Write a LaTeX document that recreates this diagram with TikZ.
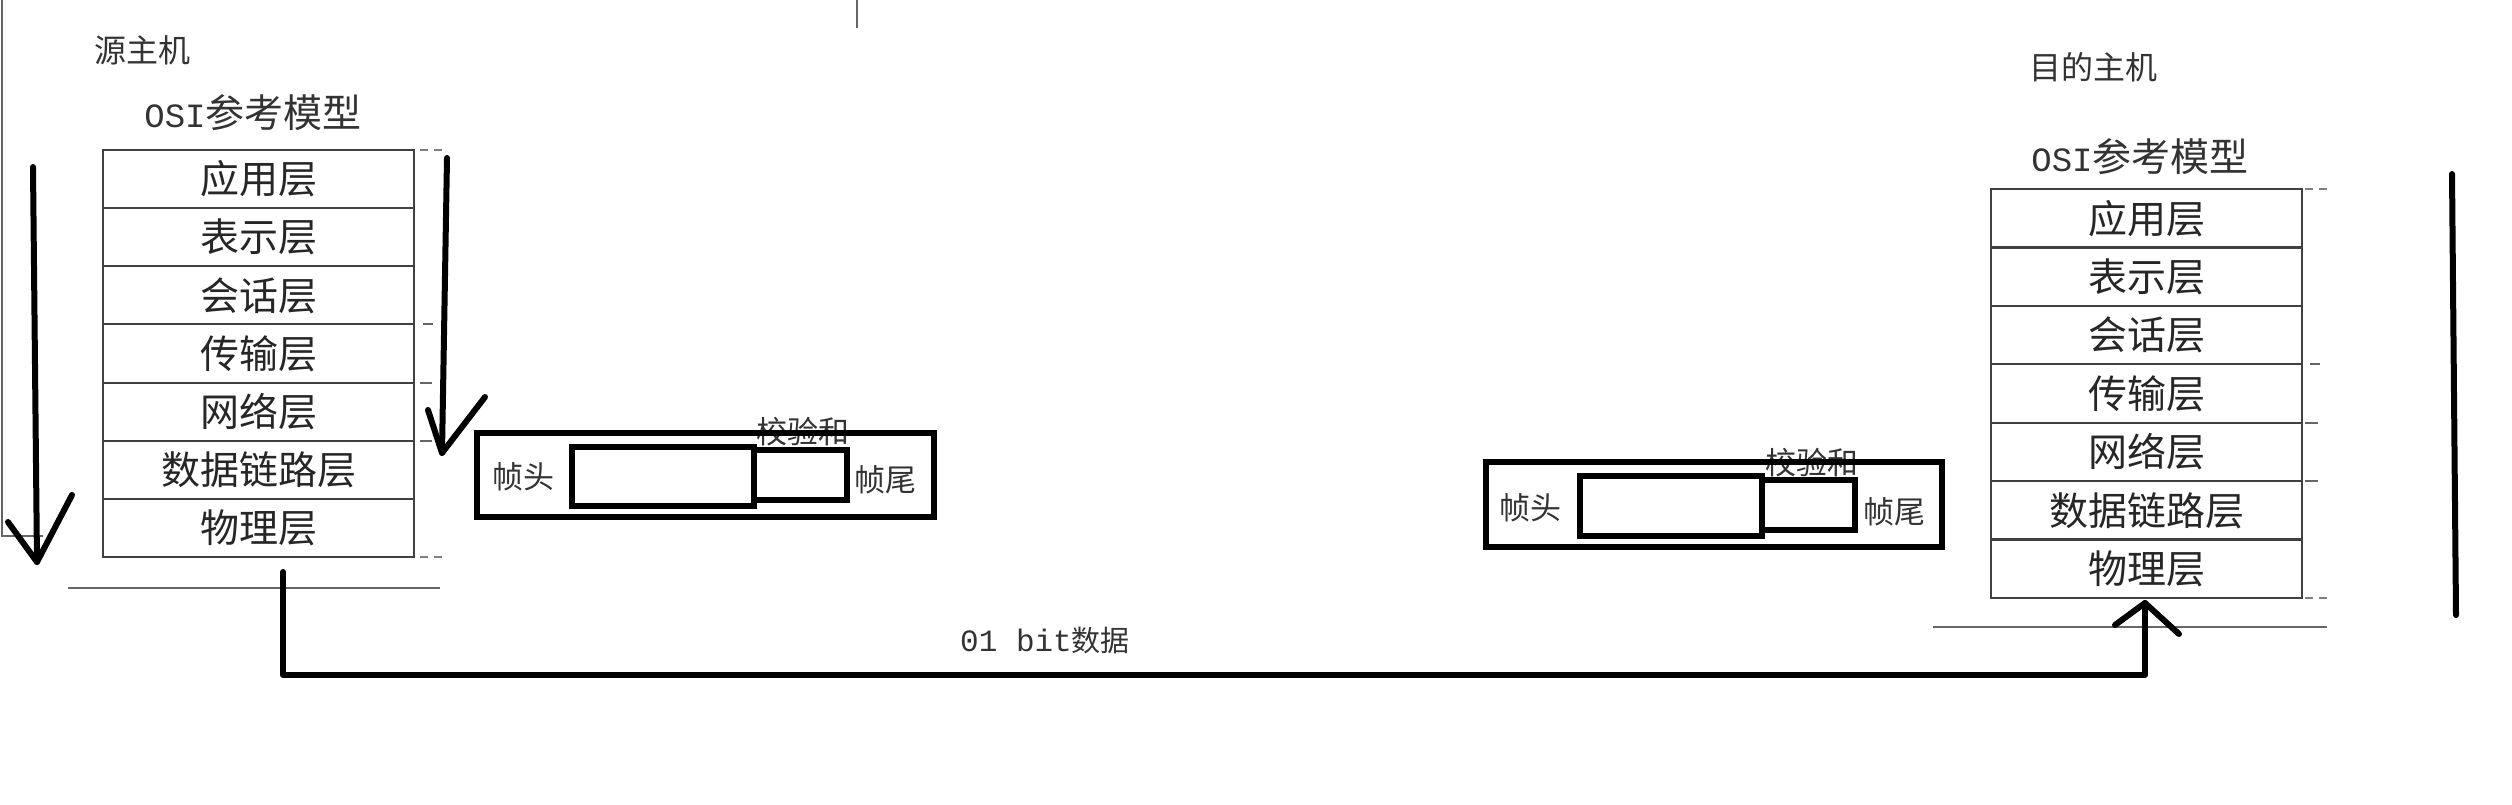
\documentclass[tikz,border=0pt]{standalone}
\usepackage{fontspec}
\newfontfamily\cjk{Noto Sans CJK SC}
\newfontfamily\mono{Liberation Mono}
\begin{document}
\begin{tikzpicture}[x=0.5pt,y=-0.5pt,
  layer/.style={draw=black!75,line width=1pt,minimum width=155.5pt,minimum height=29.1pt,inner sep=0pt,font=\cjk\fontsize{19.5}{19.5}\selectfont,text=black!85},
  lbl/.style={inner sep=0pt,text=black!80,font=\cjk\fontsize{15.5}{15.5}\selectfont},
  frm/.style={draw=black,line width=3pt,inner sep=0pt},
  hand/.style={line width=3pt,line cap=round,line join=round},
  thinline/.style={draw=black!60,line width=0.8pt},
  tickline/.style={draw=black!50,line width=0.8pt,dash pattern=on 4pt off 3pt},
]
\fill[white] (0,0) rectangle (2512,804);
\useasboundingbox (0,0) rectangle (2512,804);

% window artefacts
\coordinate (w0) at (2,0); \coordinate (w1) at (2,536); \coordinate (w2) at (43,536);
\draw[thinline] (w0) -- (w1) -- (w2);
\coordinate (t0) at (857,0); \coordinate (t1) at (857,28);
\draw[thinline] (t0) -- (t1);

% titles
\node[lbl,font=\cjk\fontsize{16}{16}\selectfont] (src) at (142,50) {源主机};
\node[lbl,font=\cjk\fontsize{16}{16}\selectfont] (dst) at (2093,67) {目的主机};
\node[lbl] (osiS) at (253,113) {{\mono\fontsize{17}{17}\selectfont OSI}{\cjk\fontsize{19.5}{19.5}\selectfont 参考模型}};
\node[lbl] (osiD) at (2140,157) {{\mono\fontsize{17}{17}\selectfont OSI}{\cjk\fontsize{19.5}{19.5}\selectfont 参考模型}};

% layer stacks
\foreach \t [count=\i] in {应用层,表示层,会话层,传输层,网络层,数据链路层,物理层} {
  \node[layer] (S\i) at (258.5, {150+58.14*(\i-0.5)}) {\t};
  \node[layer] (D\i) at (2146.5, {189+58.43*(\i-0.5)}) {\t};
}

% small ticks right of stacks
\draw[tickline] (420,150) -- (442,150);
\draw[thinline] (423,324) -- (433,324);
\draw[thinline] (420,383) -- (432,383);
\draw[thinline] (420,441) -- (432,441);
\draw[tickline] (420,557) -- (442,557);
\draw[tickline] (2305,189) -- (2328,189);
\draw[thinline] (2310,364) -- (2320,364);
\draw[thinline] (2305,423) -- (2318,423);
\draw[thinline] (2305,481) -- (2318,481);
\draw[tickline] (2305,598) -- (2328,598);

% base lines under stacks
\coordinate (b0) at (68,588); \coordinate (b1) at (440,588);
\draw[thinline] (b0) -- (b1);
\coordinate (b2) at (1933,627); \coordinate (b3) at (2327,627);
\draw[thinline] (b2) -- (b3);

% left frame
\node[lbl] (csL) at (803,432) {校验和};
\node[frm,minimum width=228.5pt,minimum height=42pt] (fL) at (705.5,475) {};
\node[frm,minimum width=91pt,minimum height=29.5pt] (dL) at (663,476.5) {};
\node[frm,minimum width=46.5pt,minimum height=25pt] (cL) at (800.5,475) {};
\node[lbl] (hL) at (523,477) {帧头};
\node[lbl] (tL) at (885,480) {帧尾};

% right frame
\node[lbl] (csR) at (1812,463) {校验和};
\node[frm,minimum width=228pt,minimum height=42.5pt] (fR) at (1714,504.5) {};
\node[frm,minimum width=91pt,minimum height=30pt] (dR) at (1671,506) {};
\node[frm,minimum width=46.5pt,minimum height=25pt] (cR) at (1808.5,505) {};
\node[lbl] (hR) at (1530,508) {帧头};
\node[lbl] (tR) at (1894,512) {帧尾};

% bit label
\node[lbl] (bits) at (1045,640) {{\mono\fontsize{15.5}{15.5}\selectfont 01 bit}{\cjk\fontsize{14.5}{14.5}\selectfont 数据}};

% hand drawn arrows
\coordinate (a1s) at (33,167); \coordinate (a1e) at (37,562);
\coordinate (a1l) at (8,522); \coordinate (a1r) at (72,495);
\draw[hand] (a1s) -- (a1e);
\draw[hand] (a1l) -- (a1e) -- (a1r);

\coordinate (a2s) at (447,158); \coordinate (a2e) at (442,453);
\coordinate (a2l) at (428,410); \coordinate (a2r) at (485,397);
\draw[hand] (a2s) -- (a2e);
\draw[hand] (a2l) -- (a2e) -- (a2r);

\coordinate (c0) at (283,572); \coordinate (c1) at (283,675);
\coordinate (c2) at (2145,675); \coordinate (c3) at (2145,603);
\coordinate (c3l) at (2115,625); \coordinate (c3r) at (2179,634);
\draw[hand] (c0) -- (c1) -- (c2) -- (c3);
\draw[hand] (c3l) -- (c3) -- (c3r);

\coordinate (r0) at (2452,174); \coordinate (r1) at (2456,615);
\draw[hand] (r0) -- (r1);
\end{tikzpicture}
\end{document}
